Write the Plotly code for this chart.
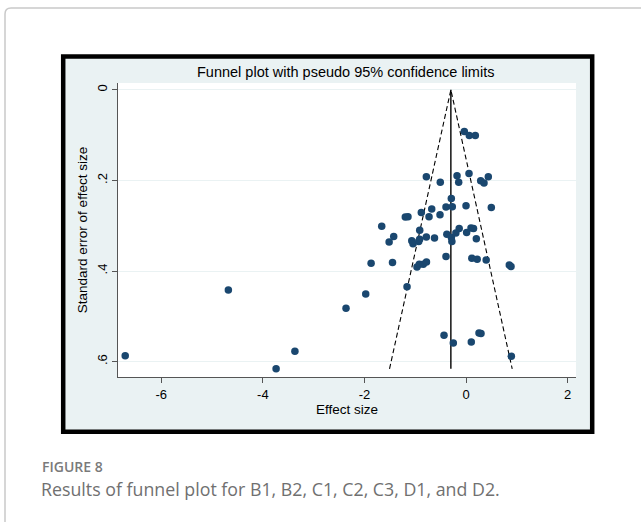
import plotly.graph_objects as go

# ---- data (effect size, standard error) ----
effect_size = [
    -0.035, 0.063, 0.181,
    -0.783, -0.179, 0.057, -0.508, -0.146, 0.287, 0.352, 0.437,
    -0.291, -0.396, -0.272, -0.002, 0.496, -0.677, -0.882, -0.730, -0.514, -1.197, -1.144,
    -1.661, -0.913, -0.136, 0.096, 0.146,
    -1.425, -1.515, -1.070, -1.045, -0.915, -0.933, -0.783, -0.622, -0.379, -0.290, -0.280, -0.202, 0.010, 0.201,
    -0.396, 0.113, 0.218, 0.395,
    -1.870, -1.449, -0.967, -0.921, -0.843, -0.780, 0.850, 0.884,
    -1.163, -1.976, -2.364, -0.435, -0.252, 0.102, 0.254, 0.293, 0.890,
    -6.710, -4.680, -3.740, -3.370,
]
std_error = [
    0.092, 0.101, 0.101,
    0.192, 0.190, 0.185, 0.204, 0.204, 0.201, 0.206, 0.192,
    0.240, 0.259, 0.258, 0.256, 0.260, 0.263, 0.271, 0.280, 0.276, 0.281, 0.280,
    0.301, 0.310, 0.306, 0.305, 0.306,
    0.324, 0.336, 0.333, 0.340, 0.330, 0.335, 0.325, 0.327, 0.319, 0.326, 0.335, 0.316, 0.315, 0.329,
    0.368, 0.372, 0.374, 0.376,
    0.383, 0.381, 0.391, 0.385, 0.385, 0.380, 0.387, 0.390,
    0.435, 0.451, 0.482, 0.542, 0.559, 0.557, 0.537, 0.538, 0.588,
    0.587, 0.442, 0.616, 0.577,
]
pooled_effect = -0.30
z95 = 1.96
x_ticks = [-6, -4, -2, 0, 2]
x_tick_labels = ["-6", "-4", "-2", "0", "2"]
y_ticks = [0, 0.2, 0.4, 0.6]
y_tick_labels = ["0", ".2", ".4", ".6"]

title_text = "Funnel plot with pseudo 95% confidence limits"
x_title = "Effect size"
y_title = "Standard error of effect size"
fig_label = "FIGURE 8"
fig_caption = "Results of funnel plot for B1, B2, C1, C2, C3, D1, and D2."

# ---- layout geometry ----
W, H = 641, 522
L, R, T, B = 118, 65, 83, 145
PW, PH = W - L - R, H - T - B
PLOT_BOTTOM = H - B


def xp(px):
    return (px - L) / PW


def yp(py):
    return (PLOT_BOTTOM - py) / PH


NAVY = "#1A476F"
BLUISH = "#EAF2F3"
FONT = "Liberation Sans, Arial, sans-serif"
CAP_FONT = "Open Sans, sans-serif"

se_max = max(std_error)

fig = go.Figure()

# pseudo 95% confidence limits
fig.add_trace(go.Scatter(
    x=[pooled_effect - z95 * se_max, pooled_effect, pooled_effect + z95 * se_max],
    y=[se_max, 0, se_max],
    mode="lines", line=dict(color="black", width=1.1, dash="5px,3px"),
    hoverinfo="skip", showlegend=False,
))
# pooled estimate line
fig.add_trace(go.Scatter(
    x=[pooled_effect, pooled_effect], y=[0, se_max],
    mode="lines", line=dict(color="black", width=1.4),
    hoverinfo="skip", showlegend=False,
))
# studies
fig.add_trace(go.Scatter(
    x=effect_size, y=std_error, mode="markers",
    marker=dict(color=NAVY, size=7.5, line=dict(width=0)),
    showlegend=False,
))

shapes = []
# outer light grey frame (rounded top-left corner)
r = 6
path = (f"M {xp(5)},{yp(540)} L {xp(5)},{yp(8 + r)} "
        f"Q {xp(5)},{yp(8)} {xp(5 + r)},{yp(8)} L {xp(660)},{yp(8)}")
shapes.append(dict(type="path", xref="paper", yref="paper", path=path,
                   line=dict(color="#C9C9C9", width=1.5), layer="below"))
# graph region box
shapes.append(dict(type="rect", xref="paper", yref="paper",
                   x0=xp(63.2), x1=xp(592.2), y0=yp(431.7), y1=yp(56.5),
                   fillcolor=BLUISH, line=dict(color="black", width=4.5), layer="below"))
# white plot region
shapes.append(dict(type="rect", xref="paper", yref="paper",
                   x0=0, x1=1, y0=0, y1=1,
                   fillcolor="white", line=dict(width=0), layer="below"))

annotations = [
    dict(text=title_text, xref="paper", yref="paper", x=xp(345), y=yp(72),
         showarrow=False, font=dict(family=FONT, size=14.5, color="black"),
         xanchor="center", yanchor="middle"),
    dict(text=fig_label, xref="paper", yref="paper", x=xp(40), y=yp(466),
         showarrow=False, font=dict(family=CAP_FONT, size=14, color="#7A7A7A", weight=600),
         xanchor="left", yanchor="middle"),
    dict(text=fig_caption, xref="paper", yref="paper", x=xp(39), y=yp(489),
         showarrow=False, font=dict(family=CAP_FONT, size=17.8, color="#707070"),
         xanchor="left", yanchor="middle"),
]

fig.update_layout(
    width=W, height=H,
    margin=dict(l=L, r=R, t=T, b=B, pad=0),
    paper_bgcolor="white", plot_bgcolor="white",
    shapes=shapes, annotations=annotations,
    font=dict(family=FONT, size=13, color="black"),
    xaxis=dict(
        range=[-6.852, 2.163], tickvals=x_ticks, ticktext=x_tick_labels,
        showgrid=False, zeroline=False, showline=True, linecolor="#555555", linewidth=1,
        ticks="outside", ticklen=5, tickcolor="#555555", tickwidth=1,
        tickfont=dict(family=FONT, size=13, color="black"),
        title=dict(text=x_title, font=dict(family=FONT, size=13.5, color="black"), standoff=1),
    ),
    yaxis=dict(
        range=[0.634, -0.015], tickvals=y_ticks, ticktext=y_tick_labels, tickangle=-90,
        showgrid=True, gridcolor=BLUISH, gridwidth=1, zeroline=False,
        showline=True, linecolor="#555555", linewidth=1,
        ticks="outside", ticklen=5, tickcolor="#555555", tickwidth=1,
        tickfont=dict(family=FONT, size=13, color="black"),
        title=dict(text=y_title, font=dict(family=FONT, size=13.5, color="black"), standoff=4),
    ),
)

fig.write_html("out.html")
